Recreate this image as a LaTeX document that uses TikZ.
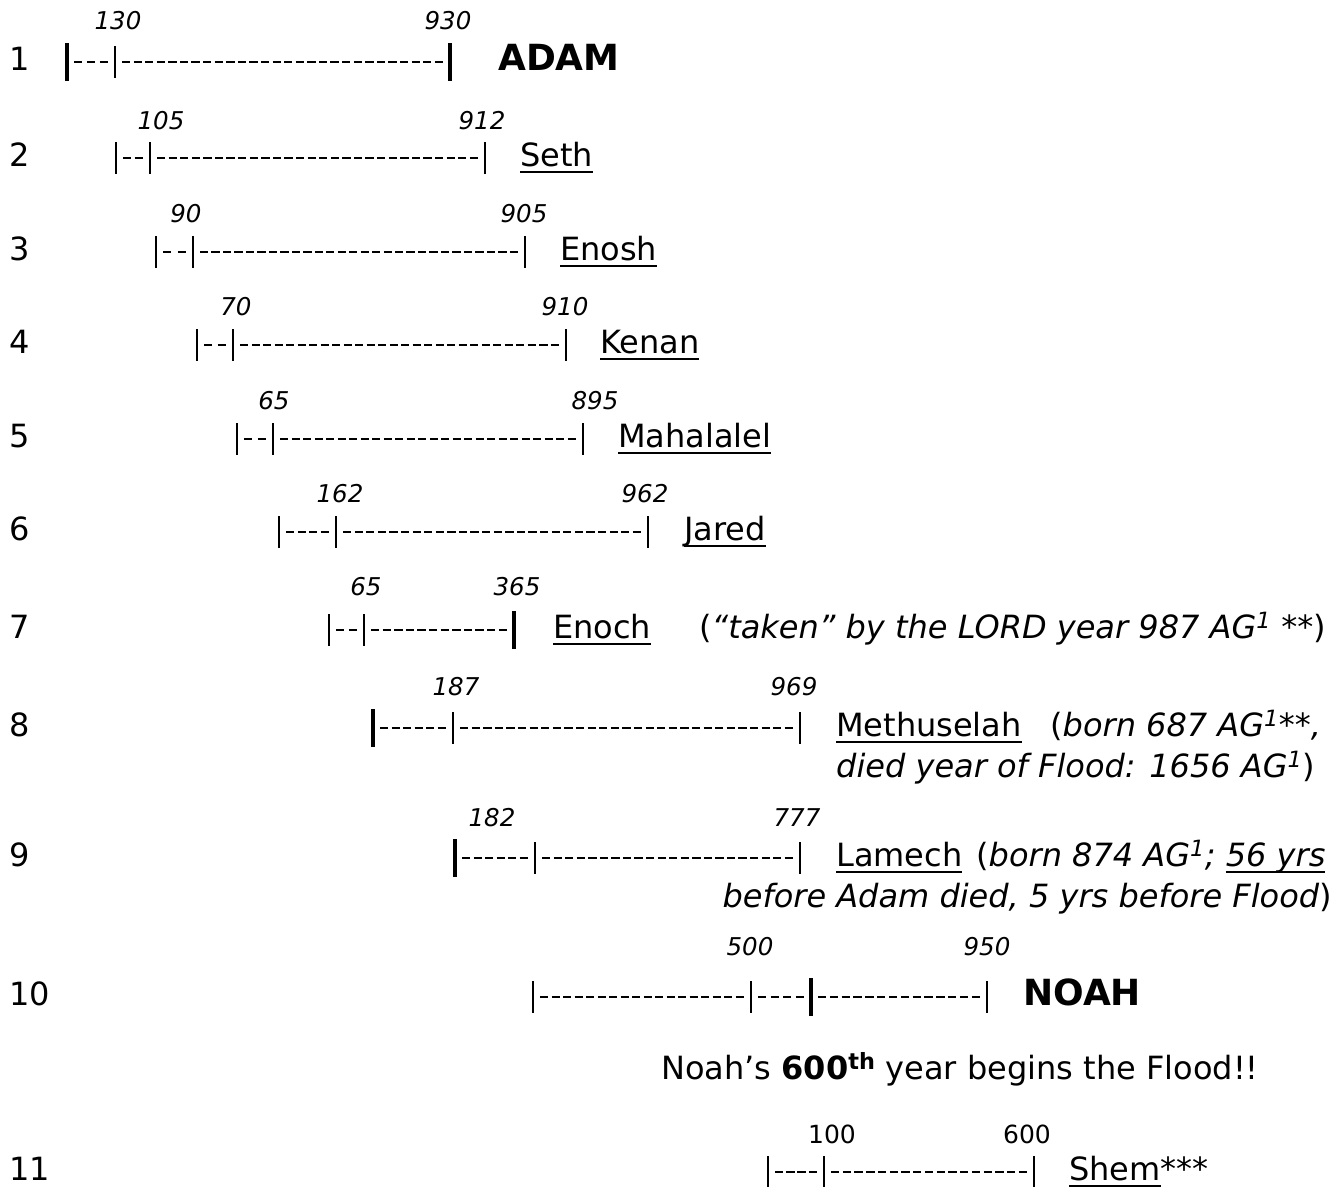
\documentclass[tikz,border=0pt]{standalone}
\usepackage{fontspec}
\setmainfont{DejaVu Sans}
\usetikzlibrary{positioning}
\newcommand{\uname}[1]{\setbox0\hbox{#1}\rlap{\rule[-7pt]{\wd0}{2.2pt}}\box0}
\newdimen\tla
\newdimen\tlb

\begin{document}
\begin{tikzpicture}[x=1pt,y=-1pt,
  txt/.style={inner sep=0pt, anchor=base west, font=\fontsize{32}{38}\selectfont},
  big/.style={inner sep=0pt, anchor=base west, font=\fontsize{36}{43}\selectfont\bfseries},
  yr/.style={inner sep=0pt, anchor=base, font=\fontsize{24.5}{29}\selectfont\itshape},
  yrup/.style={inner sep=0pt, anchor=base, font=\fontsize{25}{30}\selectfont},
  dash line/.style={line width=2.5pt, dash pattern=on 8.3pt off #1pt},
  thin bar/.style={line width=2pt},
  thick bar/.style={line width=3.6pt}]
   \useasboundingbox (0,0) rectangle (1343,1186);
   % row numbers
   \foreach \n/\y in {1/70,2/166,3/260,4/353,5/447,6/540,7/638,8/736,9/866,10/1005,11/1180}
     \node[txt] (n\n) at (9,\y) {\n};
   % tick points of each life line
   \coordinate (a0) at (67,62);   \coordinate (a1) at (115,62);  \coordinate (a2) at (450,62);
   \coordinate (b0) at (116,158); \coordinate (b1) at (150,158); \coordinate (b2) at (485,158);
   \coordinate (c0) at (156,252); \coordinate (c1) at (193,252); \coordinate (c2) at (525,252);
   \coordinate (d0) at (197,345); \coordinate (d1) at (233,345); \coordinate (d2) at (566,345);
   \coordinate (e0) at (237,439); \coordinate (e1) at (273,439); \coordinate (e2) at (583,439);
   \coordinate (f0) at (279,532); \coordinate (f1) at (336,532); \coordinate (f2) at (648,532);
   \coordinate (g0) at (329,630); \coordinate (g1) at (364,630); \coordinate (g2) at (514,630);
   \coordinate (h0) at (373,728); \coordinate (h1) at (453,728); \coordinate (h2) at (800,728);
   \coordinate (i0) at (455,858); \coordinate (i1) at (535,858); \coordinate (i2) at (800,858);
   \coordinate (j0) at (533,997); \coordinate (j1) at (751,997); \coordinate (j2) at (811,997);
   \coordinate (j3) at (987,997);
   \coordinate (k0) at (768,1172); \coordinate (k1) at (824,1172); \coordinate (k2) at (1034,1172);
   % dashes, a whole number of them between two bars
   \foreach \p/\q in {a0/a1,a1/a2,b0/b1,b1/b2,c0/c1,c1/c2,d0/d1,d1/d2,e0/e1,e1/e2,
                      f0/f1,f1/f2,g0/g1,g1/g2,h0/h1,h1/h2,i0/i1,i1/i2,
                      j0/j1,j1/j2,j2/j3,k0/k1,k1/k2} {
     \pgfextractx{\tla}{\pgfpointanchor{\p}{center}}
     \pgfextractx{\tlb}{\pgfpointanchor{\q}{center}}
     \pgfmathsetmacro\len{\tlb-\tla-14}
     \pgfmathsetmacro\num{max(2,round((\len+3.3)/11.6))}
     \pgfmathsetmacro\gap{(\len-8.3*\num)/(\num-1)}
     \draw[dash line=\gap] ([xshift=7pt]\p) -- ([xshift=-7pt]\q);
   }
   % bars
   \foreach \c in {a1,b0,b1,b2,c0,c1,c2,d0,d1,d2,e0,e1,e2,f0,f1,f2,g0,g1,h1,h2,i1,i2,j0,j1,j3,k0,k1,k2}
     \draw[thin bar] (\c) ++(0,-16) -- ++(0,32);
   \foreach \c in {a0,a2,g2,h0,i0,j2}
     \draw[thick bar] (\c) ++(0,-19) -- ++(0,38);
   % years
   \node[yr] (a1y) at (118,29) {130};   \node[yr] (a2y) at (448,29) {930};
   \node[yr] (b1y) at (161,129) {105};  \node[yr] (b2y) at (482,129) {912};
   \node[yr] (c1y) at (186,222) {90};   \node[yr] (c2y) at (524,222) {905};
   \node[yr] (d1y) at (236,315) {70};   \node[yr] (d2y) at (565,315) {910};
   \node[yr] (e1y) at (274,409) {65};   \node[yr] (e2y) at (595,409) {895};
   \node[yr] (f1y) at (340,502) {162};  \node[yr] (f2y) at (645,502) {962};
   \node[yr] (g1y) at (366,595) {65};   \node[yr] (g2y) at (517,595) {365};
   \node[yr] (h1y) at (456,695) {187};  \node[yr] (h2y) at (794,695) {969};
   \node[yr] (i1y) at (492,826) {182};  \node[yr] (i2y) at (797,826) {777};
   \node[yr] (j1y) at (750,955) {500};  \node[yr] (j3y) at (987,955) {950};
   \node[yrup] (k1y) at (832,1143) {100}; \node[yrup] (k2y) at (1027,1143) {600};
   % names
   \node[big] (adam) at (498,70) {ADAM};
   \node[txt] (seth) at (520,166) {\uname{Seth}};
   \node[txt] (enosh) at (560,260) {\uname{Enosh}};
   \node[txt] (kenan) at (600,353) {\uname{Kenan}};
   \node[txt] (mahalalel) at (618,447) {\uname{Mahalalel}};
   \node[txt] (jared) at (684,540) {\uname{Jared}};
   \node[txt] (enoch) at (553,638) {\uname{Enoch}};
   \node[txt] (enochnote) at (699,638) {(\textit{“taken” by the LORD year 987 AG\textsuperscript{1} **})};
   \node[txt] (methuselah) at (836,736) {\uname{Methuselah}};
   \node[txt] (methnote) at (1050,736) {(\textit{born 687 AG\textsuperscript{1}**,}};
   \node[txt] (methnote2) at (836,777) {\textit{died year of Flood: 1656 AG\textsuperscript{1}})};
   \node[txt] (lamech) at (836,866) {\uname{Lamech}};
   \node[txt] (lamechnote) at (976,866) {(\textit{born 874 AG\textsuperscript{1}; \uname{56 yrs}}};
   \node[txt, anchor=base east] (lamechnote2) at (1332,907) {\textit{before Adam died, 5 yrs before Flood})};
   \node[big] (noah) at (1023,1005) {NOAH};
   \node[txt] (flood) at (661,1079) {Noah’s \textbf{600\textsuperscript{th}} year begins the Flood!!};
   \node[txt] (shem) at (1069,1180) {\uname{Shem}***};
\end{tikzpicture}
\end{document}
